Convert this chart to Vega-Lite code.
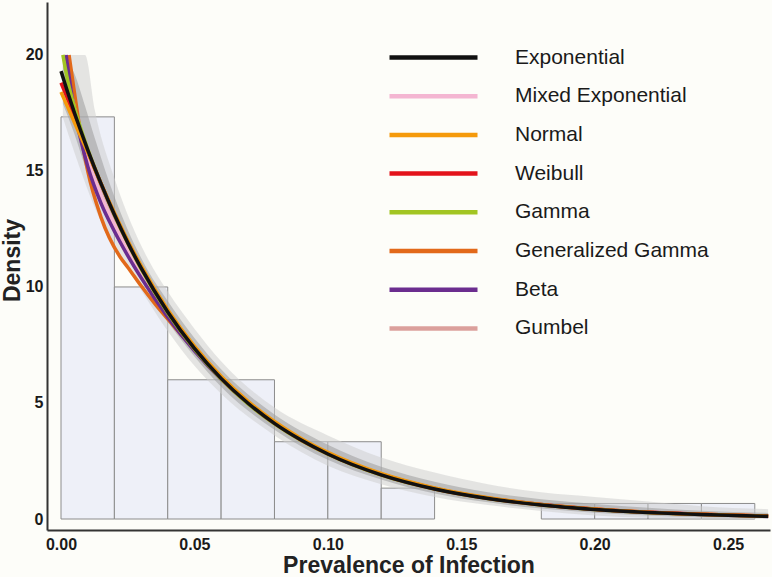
{
  "$schema": "https://vega.github.io/schema/vega-lite/v6.json",
  "width": 723,
  "height": 528,
  "autosize": {"type": "none"},
  "padding": {"left": 47, "top": 2, "right": 2, "bottom": 47},
  "background": "#fdfdf9",
  "config": {"view": {"stroke": null}, "font": "Liberation Sans"},
  "datasets": {
    "bars": [
      {"x0": 0.00, "x1": 0.02, "density": 17.33},
      {"x0": 0.02, "x1": 0.04, "density": 10.0},
      {"x0": 0.04, "x1": 0.06, "density": 6.0},
      {"x0": 0.06, "x1": 0.08, "density": 6.0},
      {"x0": 0.08, "x1": 0.10, "density": 3.33},
      {"x0": 0.10, "x1": 0.12, "density": 3.33},
      {"x0": 0.12, "x1": 0.14, "density": 1.33},
      {"x0": 0.18, "x1": 0.20, "density": 0.67},
      {"x0": 0.20, "x1": 0.22, "density": 0.67},
      {"x0": 0.22, "x1": 0.24, "density": 0.67},
      {"x0": 0.24, "x1": 0.26, "density": 0.67}
    ],
    "band": [
      {"x": 0.0007, "lo": 17.3, "hi": 20, "lo2": 17.9, "hi2": 20},
      {"x": 0.005, "lo": 15.8, "hi": 20, "lo2": 16.6, "hi2": 19.2},
      {"x": 0.009, "lo": 14.5, "hi": 20, "lo2": 15.2, "hi2": 17.8},
      {"x": 0.0127, "lo": 13.4, "hi": 17.6, "lo2": 14.1, "hi2": 16.4},
      {"x": 0.02, "lo": 11.8, "hi": 14.7, "lo2": 12.4, "hi2": 13.9},
      {"x": 0.0326, "lo": 9.4, "hi": 11.2, "lo2": 9.8, "hi2": 10.7},
      {"x": 0.04, "lo": 8.1, "hi": 9.8, "lo2": 8.5, "hi2": 9.4},
      {"x": 0.05, "lo": 6.6, "hi": 8.2, "lo2": 7.0, "hi2": 7.8},
      {"x": 0.06, "lo": 5.4, "hi": 6.8, "lo2": 5.7, "hi2": 6.45},
      {"x": 0.08, "lo": 3.6, "hi": 4.8, "lo2": 3.85, "hi2": 4.5},
      {"x": 0.10, "lo": 2.3, "hi": 3.6, "lo2": 2.55, "hi2": 3.2},
      {"x": 0.12, "lo": 1.5, "hi": 2.65, "lo2": 1.7, "hi2": 2.25},
      {"x": 0.14, "lo": 0.95, "hi": 2.0, "lo2": 1.1, "hi2": 1.6},
      {"x": 0.16, "lo": 0.6, "hi": 1.5, "lo2": 0.72, "hi2": 1.15},
      {"x": 0.18, "lo": 0.35, "hi": 1.15, "lo2": 0.45, "hi2": 0.85},
      {"x": 0.20, "lo": 0.15, "hi": 0.95, "lo2": 0.27, "hi2": 0.65},
      {"x": 0.22, "lo": 0.05, "hi": 0.75, "lo2": 0.15, "hi2": 0.48},
      {"x": 0.24, "lo": 0.0, "hi": 0.55, "lo2": 0.08, "hi2": 0.36},
      {"x": 0.265, "lo": 0.0, "hi": 0.42, "lo2": 0.04, "hi2": 0.26}
    ],
    "curves": [
      {"d": "Gumbel", "x": 0.0012, "y": 20}, {"d": "Gumbel", "x": 0.0025, "y": 19.1}, {"d": "Gumbel", "x": 0.005, "y": 17.7}, {"d": "Gumbel", "x": 0.0075, "y": 16.7}, {"d": "Gumbel", "x": 0.01, "y": 15.85}, {"d": "Gumbel", "x": 0.015, "y": 14.4}, {"d": "Gumbel", "x": 0.02, "y": 13.05}, {"d": "Gumbel", "x": 0.025, "y": 11.85}, {"d": "Gumbel", "x": 0.03, "y": 10.78}, {"d": "Gumbel", "x": 0.04, "y": 8.9}, {"d": "Gumbel", "x": 0.05, "y": 7.34}, {"d": "Gumbel", "x": 0.06, "y": 6.05}, {"d": "Gumbel", "x": 0.07, "y": 5.0}, {"d": "Gumbel", "x": 0.08, "y": 4.12}, {"d": "Gumbel", "x": 0.09, "y": 3.4}, {"d": "Gumbel", "x": 0.10, "y": 2.8}, {"d": "Gumbel", "x": 0.12, "y": 1.9}, {"d": "Gumbel", "x": 0.14, "y": 1.29}, {"d": "Gumbel", "x": 0.16, "y": 0.88}, {"d": "Gumbel", "x": 0.18, "y": 0.6}, {"d": "Gumbel", "x": 0.20, "y": 0.41}, {"d": "Gumbel", "x": 0.22, "y": 0.28}, {"d": "Gumbel", "x": 0.24, "y": 0.19}, {"d": "Gumbel", "x": 0.265, "y": 0.115},
      {"d": "Generalized Gamma", "x": 0.003, "y": 20}, {"d": "Generalized Gamma", "x": 0.005, "y": 18.4}, {"d": "Generalized Gamma", "x": 0.0071, "y": 16.8}, {"d": "Generalized Gamma", "x": 0.01, "y": 15.0}, {"d": "Generalized Gamma", "x": 0.015, "y": 13.0}, {"d": "Generalized Gamma", "x": 0.0221, "y": 11.3}, {"d": "Generalized Gamma", "x": 0.025, "y": 10.85}, {"d": "Generalized Gamma", "x": 0.03, "y": 10.05}, {"d": "Generalized Gamma", "x": 0.035, "y": 9.3}, {"d": "Generalized Gamma", "x": 0.042, "y": 8.35}, {"d": "Generalized Gamma", "x": 0.05, "y": 7.3}, {"d": "Generalized Gamma", "x": 0.06, "y": 6.05}, {"d": "Generalized Gamma", "x": 0.07, "y": 5.0}, {"d": "Generalized Gamma", "x": 0.08, "y": 4.13}, {"d": "Generalized Gamma", "x": 0.09, "y": 3.41}, {"d": "Generalized Gamma", "x": 0.10, "y": 2.82}, {"d": "Generalized Gamma", "x": 0.12, "y": 1.93}, {"d": "Generalized Gamma", "x": 0.14, "y": 1.32}, {"d": "Generalized Gamma", "x": 0.16, "y": 0.91}, {"d": "Generalized Gamma", "x": 0.18, "y": 0.62}, {"d": "Generalized Gamma", "x": 0.20, "y": 0.43}, {"d": "Generalized Gamma", "x": 0.22, "y": 0.29}, {"d": "Generalized Gamma", "x": 0.24, "y": 0.2}, {"d": "Generalized Gamma", "x": 0.265, "y": 0.12},
      {"d": "Mixed Exponential", "x": 0.0015, "y": 20}, {"d": "Mixed Exponential", "x": 0.0025, "y": 19.2}, {"d": "Mixed Exponential", "x": 0.005, "y": 17.7}, {"d": "Mixed Exponential", "x": 0.0075, "y": 16.5}, {"d": "Mixed Exponential", "x": 0.01, "y": 15.5}, {"d": "Mixed Exponential", "x": 0.015, "y": 13.95}, {"d": "Mixed Exponential", "x": 0.02, "y": 12.7}, {"d": "Mixed Exponential", "x": 0.025, "y": 11.6}, {"d": "Mixed Exponential", "x": 0.03, "y": 10.6}, {"d": "Mixed Exponential", "x": 0.04, "y": 8.8}, {"d": "Mixed Exponential", "x": 0.05, "y": 7.3}, {"d": "Mixed Exponential", "x": 0.06, "y": 6.04}, {"d": "Mixed Exponential", "x": 0.07, "y": 5.0}, {"d": "Mixed Exponential", "x": 0.08, "y": 4.12}, {"d": "Mixed Exponential", "x": 0.09, "y": 3.4}, {"d": "Mixed Exponential", "x": 0.10, "y": 2.81}, {"d": "Mixed Exponential", "x": 0.12, "y": 1.92}, {"d": "Mixed Exponential", "x": 0.14, "y": 1.31}, {"d": "Mixed Exponential", "x": 0.16, "y": 0.9}, {"d": "Mixed Exponential", "x": 0.18, "y": 0.61}, {"d": "Mixed Exponential", "x": 0.20, "y": 0.42}, {"d": "Mixed Exponential", "x": 0.22, "y": 0.29}, {"d": "Mixed Exponential", "x": 0.24, "y": 0.19}, {"d": "Mixed Exponential", "x": 0.265, "y": 0.115},
      {"d": "Beta", "x": 0.0019, "y": 20}, {"d": "Beta", "x": 0.0025, "y": 19.5}, {"d": "Beta", "x": 0.005, "y": 17.6}, {"d": "Beta", "x": 0.0075, "y": 16.3}, {"d": "Beta", "x": 0.01, "y": 15.2}, {"d": "Beta", "x": 0.015, "y": 13.6}, {"d": "Beta", "x": 0.02, "y": 12.4}, {"d": "Beta", "x": 0.025, "y": 11.35}, {"d": "Beta", "x": 0.03, "y": 10.4}, {"d": "Beta", "x": 0.04, "y": 8.7}, {"d": "Beta", "x": 0.05, "y": 7.25}, {"d": "Beta", "x": 0.06, "y": 6.02}, {"d": "Beta", "x": 0.07, "y": 4.99}, {"d": "Beta", "x": 0.08, "y": 4.12}, {"d": "Beta", "x": 0.09, "y": 3.41}, {"d": "Beta", "x": 0.10, "y": 2.82}, {"d": "Beta", "x": 0.12, "y": 1.93}, {"d": "Beta", "x": 0.14, "y": 1.32}, {"d": "Beta", "x": 0.16, "y": 0.9}, {"d": "Beta", "x": 0.18, "y": 0.62}, {"d": "Beta", "x": 0.20, "y": 0.42}, {"d": "Beta", "x": 0.22, "y": 0.29}, {"d": "Beta", "x": 0.24, "y": 0.19}, {"d": "Beta", "x": 0.265, "y": 0.11},
      {"d": "Gamma", "x": 0.0007, "y": 20}, {"d": "Gamma", "x": 0.0025, "y": 18.9}, {"d": "Gamma", "x": 0.005, "y": 17.75}, {"d": "Gamma", "x": 0.0075, "y": 16.8}, {"d": "Gamma", "x": 0.01, "y": 15.95}, {"d": "Gamma", "x": 0.015, "y": 14.45}, {"d": "Gamma", "x": 0.02, "y": 13.1}, {"d": "Gamma", "x": 0.025, "y": 11.88}, {"d": "Gamma", "x": 0.03, "y": 10.78}, {"d": "Gamma", "x": 0.04, "y": 8.88}, {"d": "Gamma", "x": 0.05, "y": 7.32}, {"d": "Gamma", "x": 0.06, "y": 6.03}, {"d": "Gamma", "x": 0.07, "y": 4.97}, {"d": "Gamma", "x": 0.08, "y": 4.1}, {"d": "Gamma", "x": 0.09, "y": 3.38}, {"d": "Gamma", "x": 0.10, "y": 2.79}, {"d": "Gamma", "x": 0.12, "y": 1.89}, {"d": "Gamma", "x": 0.14, "y": 1.29}, {"d": "Gamma", "x": 0.16, "y": 0.88}, {"d": "Gamma", "x": 0.18, "y": 0.6}, {"d": "Gamma", "x": 0.20, "y": 0.41}, {"d": "Gamma", "x": 0.22, "y": 0.28}, {"d": "Gamma", "x": 0.24, "y": 0.19}, {"d": "Gamma", "x": 0.265, "y": 0.115},
      {"d": "Weibull", "x": 0.0, "y": 18.8}, {"d": "Weibull", "x": 0.0025, "y": 18.1}, {"d": "Weibull", "x": 0.005, "y": 17.35}, {"d": "Weibull", "x": 0.0075, "y": 16.6}, {"d": "Weibull", "x": 0.01, "y": 15.85}, {"d": "Weibull", "x": 0.015, "y": 14.45}, {"d": "Weibull", "x": 0.02, "y": 13.15}, {"d": "Weibull", "x": 0.025, "y": 11.95}, {"d": "Weibull", "x": 0.03, "y": 10.85}, {"d": "Weibull", "x": 0.04, "y": 8.95}, {"d": "Weibull", "x": 0.05, "y": 7.38}, {"d": "Weibull", "x": 0.06, "y": 6.08}, {"d": "Weibull", "x": 0.07, "y": 5.02}, {"d": "Weibull", "x": 0.08, "y": 4.13}, {"d": "Weibull", "x": 0.09, "y": 3.41}, {"d": "Weibull", "x": 0.10, "y": 2.81}, {"d": "Weibull", "x": 0.12, "y": 1.91}, {"d": "Weibull", "x": 0.14, "y": 1.3}, {"d": "Weibull", "x": 0.16, "y": 0.89}, {"d": "Weibull", "x": 0.18, "y": 0.61}, {"d": "Weibull", "x": 0.20, "y": 0.42}, {"d": "Weibull", "x": 0.22, "y": 0.29}, {"d": "Weibull", "x": 0.24, "y": 0.2}, {"d": "Weibull", "x": 0.265, "y": 0.12},
      {"d": "Normal", "x": 0.0, "y": 18.4}, {"d": "Normal", "x": 0.0025, "y": 17.75}, {"d": "Normal", "x": 0.005, "y": 17.1}, {"d": "Normal", "x": 0.0075, "y": 16.45}, {"d": "Normal", "x": 0.01, "y": 15.8}, {"d": "Normal", "x": 0.015, "y": 14.45}, {"d": "Normal", "x": 0.02, "y": 13.2}, {"d": "Normal", "x": 0.025, "y": 12.0}, {"d": "Normal", "x": 0.03, "y": 10.92}, {"d": "Normal", "x": 0.04, "y": 9.02}, {"d": "Normal", "x": 0.05, "y": 7.45}, {"d": "Normal", "x": 0.06, "y": 6.15}, {"d": "Normal", "x": 0.07, "y": 5.08}, {"d": "Normal", "x": 0.08, "y": 4.2}, {"d": "Normal", "x": 0.09, "y": 3.47}, {"d": "Normal", "x": 0.10, "y": 2.87}, {"d": "Normal", "x": 0.12, "y": 1.96}, {"d": "Normal", "x": 0.14, "y": 1.34}, {"d": "Normal", "x": 0.16, "y": 0.92}, {"d": "Normal", "x": 0.18, "y": 0.63}, {"d": "Normal", "x": 0.20, "y": 0.43}, {"d": "Normal", "x": 0.22, "y": 0.29}, {"d": "Normal", "x": 0.24, "y": 0.2}, {"d": "Normal", "x": 0.265, "y": 0.12},
      {"d": "Exponential", "x": 0.0, "y": 19.3}, {"d": "Exponential", "x": 0.0025, "y": 18.39}, {"d": "Exponential", "x": 0.005, "y": 17.52}, {"d": "Exponential", "x": 0.0075, "y": 16.7}, {"d": "Exponential", "x": 0.01, "y": 15.91}, {"d": "Exponential", "x": 0.015, "y": 14.45}, {"d": "Exponential", "x": 0.02, "y": 13.12}, {"d": "Exponential", "x": 0.025, "y": 11.91}, {"d": "Exponential", "x": 0.03, "y": 10.82}, {"d": "Exponential", "x": 0.04, "y": 8.92}, {"d": "Exponential", "x": 0.05, "y": 7.35}, {"d": "Exponential", "x": 0.06, "y": 6.06}, {"d": "Exponential", "x": 0.07, "y": 5.0}, {"d": "Exponential", "x": 0.08, "y": 4.12}, {"d": "Exponential", "x": 0.09, "y": 3.4}, {"d": "Exponential", "x": 0.10, "y": 2.8}, {"d": "Exponential", "x": 0.12, "y": 1.9}, {"d": "Exponential", "x": 0.14, "y": 1.29}, {"d": "Exponential", "x": 0.16, "y": 0.88}, {"d": "Exponential", "x": 0.18, "y": 0.6}, {"d": "Exponential", "x": 0.20, "y": 0.41}, {"d": "Exponential", "x": 0.22, "y": 0.28}, {"d": "Exponential", "x": 0.24, "y": 0.19}, {"d": "Exponential", "x": 0.265, "y": 0.116}
    ]
  },
  "layer": [
    {
      "data": {"name": "bars"},
      "mark": {"type": "rect", "fill": "#eef0f8", "stroke": "#8c8c8c", "strokeWidth": 1},
      "encoding": {
        "x": {
          "field": "x0", "type": "quantitative",
          "scale": {"domain": [-0.00525, 0.2657], "nice": false, "zero": false},
          "axis": {
            "title": "Prevalence of Infection",
            "values": [0, 0.05, 0.1, 0.15, 0.2, 0.25],
            "format": ".2f",
            "ticks": false, "grid": false,
            "domainColor": "#333333", "domainWidth": 2,
            "labelFont": "Liberation Sans", "labelFontWeight": "bold", "labelFontSize": 16, "labelColor": "#1a1a1a", "labelPadding": 6,
            "titleFont": "Liberation Sans", "titleFontWeight": "bold", "titleFontSize": 23, "titleColor": "#222222",
            "titleBaseline": "alphabetic", "titleY": 42
          }
        },
        "x2": {"field": "x1"},
        "y": {
          "field": "density", "type": "quantitative",
          "scale": {"domain": [-0.474, 22.28], "nice": false, "zero": false},
          "axis": {
            "title": "Density",
            "values": [0, 5, 10, 15, 20],
            "ticks": false, "grid": false,
            "domainColor": "#333333", "domainWidth": 2,
            "labelFont": "Liberation Sans", "labelFontWeight": "bold", "labelFontSize": 16, "labelColor": "#1a1a1a", "labelPadding": 4,
            "titleFont": "Liberation Sans", "titleFontWeight": "bold", "titleFontSize": 23, "titleColor": "#222222",
            "titleBaseline": "alphabetic", "titleX": -28, "titleY": 258
          }
        },
        "y2": {"datum": 0}
      }
    },
    {
      "data": {"name": "band"},
      "mark": {"type": "area", "color": "#cfcfcf", "opacity": 0.55, "interpolate": "monotone"},
      "encoding": {
        "x": {"field": "x", "type": "quantitative"},
        "y": {"field": "hi", "type": "quantitative"},
        "y2": {"field": "lo"}
      }
    },
    {
      "data": {"name": "band"},
      "mark": {"type": "area", "color": "#9c9c9c", "opacity": 0.55, "interpolate": "monotone"},
      "encoding": {
        "x": {"field": "x", "type": "quantitative"},
        "y": {"field": "hi2", "type": "quantitative"},
        "y2": {"field": "lo2"}
      }
    },
    {
      "data": {"name": "curves"},
      "mark": {"type": "line", "strokeWidth": 3.5, "interpolate": "monotone"},
      "encoding": {
        "x": {"field": "x", "type": "quantitative"},
        "y": {"field": "y", "type": "quantitative"},
        "color": {
          "field": "d", "type": "nominal",
          "scale": {
            "domain": ["Exponential", "Mixed Exponential", "Normal", "Weibull", "Gamma", "Generalized Gamma", "Beta", "Gumbel"],
            "range": ["#111111", "#f4b6d2", "#f59a0c", "#e3131b", "#a2c523", "#e2691a", "#6b2d8f", "#dba09c"]
          },
          "legend": {
            "title": null,
            "orient": "none",
            "legendX": 373,
            "legendY": 42,
            "padding": 0,
            "symbolType": "M-4,0H4",
            "symbolSize": 484,
            "symbolStrokeWidth": 4.5,
            "labelFont": "Liberation Sans",
            "labelFontSize": 21,
            "labelColor": "#1a1a1a",
            "labelOffset": 68,
            "labelLimit": 400,
            "rowPadding": 14.7
          }
        }
      }
    }
  ]
}
